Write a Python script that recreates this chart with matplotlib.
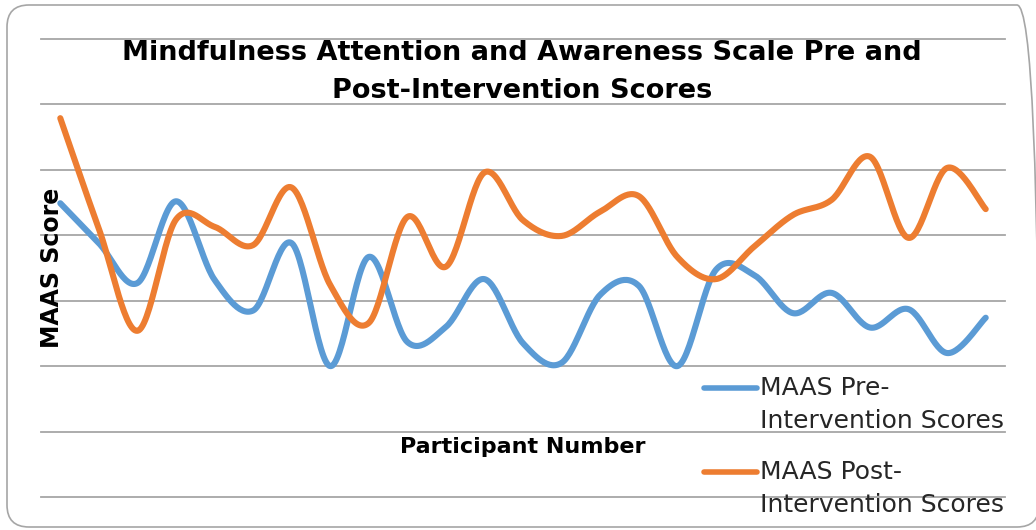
import matplotlib
matplotlib.use("Agg")
import matplotlib.pyplot as plt
import numpy as np
from matplotlib.patches import FancyBboxPatch
from matplotlib.lines import Line2D

# participant numbers 1..25 and MAAS mean item scores
participants = np.arange(1, 26)
pre_scores = [4.49, 3.88, 3.27, 4.52, 3.32, 2.85, 3.88, 2.0, 3.67, 2.37,
              2.6, 3.33, 2.35, 2.05, 3.09, 3.23, 2.0, 3.47, 3.39, 2.81,
              3.12, 2.59, 2.87, 2.2, 2.74]
post_scores = [5.79, 4.1, 2.54, 4.24, 4.13, 3.85, 4.73, 3.24, 2.66, 4.28,
               3.52, 4.96, 4.23, 3.99, 4.36, 4.6, 3.67, 3.33, 3.83, 4.31,
               4.54, 5.2, 3.96, 5.03, 4.4]
series_names = ["MAAS Pre-\nIntervention Scores", "MAAS Post-\nIntervention Scores"]
series_colors = ["#5B9BD5", "#ED7D31"]


def smooth(x, y, n=30):
    # Catmull-Rom style smoothing, like Excel "smoothed line"
    x = np.asarray(x, float)
    y = np.asarray(y, float)
    px = np.concatenate([[x[0]], x, [x[-1]]])
    py = np.concatenate([[y[0]], y, [y[-1]]])
    xs, ys = [], []
    t = np.linspace(0, 1, n)
    for i in range(1, len(px) - 2):
        p0 = np.array([px[i - 1], py[i - 1]])
        p1 = np.array([px[i], py[i]])
        p2 = np.array([px[i + 1], py[i + 1]])
        p3 = np.array([px[i + 2], py[i + 2]])
        c1 = p1 + (p2 - p0) / 6
        c2 = p2 - (p3 - p1) / 6
        pts = (np.outer((1 - t) ** 3, p1) + np.outer(3 * (1 - t) ** 2 * t, c1)
               + np.outer(3 * (1 - t) * t ** 2, c2) + np.outer(t ** 3, p2))
        xs.append(pts[:, 0])
        ys.append(pts[:, 1])
    return np.concatenate(xs), np.concatenate(ys)


plt.rcParams['font.family'] = ['DejaVu Sans']

fig = plt.figure(figsize=(10.36, 5.3), dpi=100)
fig.patch.set_facecolor("white")

# rounded chart border (in inches, runs off the right edge like the original)
border = FancyBboxPatch((0.07, 0.03), 10.32, 5.22,
                        boxstyle="round,pad=0,rounding_size=0.22",
                        transform=fig.dpi_scale_trans, facecolor="none",
                        edgecolor="#a6a6a6", linewidth=1.2)
fig.patches.append(border)

ax = fig.add_axes([41 / 1036, 33 / 530, 964 / 1036, 458 / 530])
ax.set_xlim(0.5, 25.5)
ax.set_ylim(0, 7)
for s in ax.spines.values():
    s.set_visible(False)
ax.set_xticks([])
ax.set_yticks(np.arange(0, 8, 1))
ax.tick_params(axis='y', length=0, labelleft=False)
ax.yaxis.grid(True, color="#a6a6a6", linewidth=1.3)
for gl in ax.get_ygridlines():
    gl.set_clip_on(False)
ax.set_axisbelow(True)

for vals, col in zip([pre_scores, post_scores], series_colors):
    sx, sy = smooth(participants, vals)
    ax.plot(sx, sy, color=col, linewidth=4.4, solid_capstyle="round", zorder=3)

fig.text(522 / 1036, 1 - 72 / 530,
         "Mindfulness Attention and Awareness Scale Pre and\nPost-Intervention Scores",
         ha="center", va="center", fontsize=19.5, fontweight="bold", linespacing=1.65)
fig.text(52 / 1036, 1 - 268 / 530, "MAAS Score", rotation=90, ha="center", va="center",
         fontsize=17, fontweight="bold")
fig.text(523 / 1036, 1 - 447 / 530, "Participant Number", ha="center", va="center",
         fontsize=16, fontweight="bold")

# legend drawn by hand so the marker sits on the first text line
for i, (name, col) in enumerate(zip(series_names, series_colors)):
    yy = 1 - (388 + 84 * i) / 530
    fig.add_artist(Line2D([704 / 1036, 757 / 1036], [yy, yy], color=col, linewidth=4,
                          solid_capstyle="round", transform=fig.transFigure))
    fig.text(760 / 1036, yy + 12 / 530, name, ha="left", va="top", fontsize=18,
             linespacing=1.45, color="#262626")

fig.savefig("out.png", dpi=100)
